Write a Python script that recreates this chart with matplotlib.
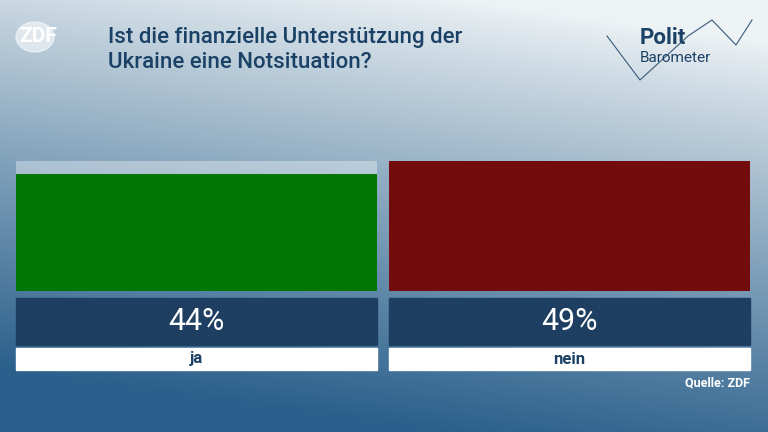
import numpy as np
import matplotlib
matplotlib.use("Agg")
import matplotlib.pyplot as plt
from matplotlib.patches import Rectangle, Ellipse

categories = ["ja", "nein"]
values = [44, 49]
labels = ["44%", "49%"]
colors = ["#037603", "#720c0d"]

plt.rcParams['font.family'] = ['Roboto', 'DejaVu Sans']
W, H = 768, 432
fig = plt.figure(figsize=(7.68, 4.32), dpi=100)
bg = fig.add_axes([0, 0, 1, 1])
bg.set_xlim(0, W); bg.set_ylim(H, 0); bg.axis('off')
yy, xx = np.mgrid[0:H, 0:W]
t = np.clip((yy / H) * 1.0 + (1 - xx / W) * 0.25 - 0.1, 0, 1) ** 0.9
top = np.array([0.93, 0.95, 0.96]); bot = np.array([0.17, 0.38, 0.55])
img = top[None, None, :] * (1 - t[..., None]) + bot[None, None, :] * t[..., None]
bg.imshow(img, extent=[0, W, H, 0], aspect='auto', zorder=0)

# ZDF logo
bg.add_patch(Ellipse((35, 37), 38, 30, color='white', alpha=0.55, zorder=1))
bg.text(38, 37, "ZDF", color='white', fontsize=15, ha='center', va='center', weight='bold', zorder=2)
bg.text(108, 37, "Ist die finanzielle Unterstützung der", color='#1b4266', fontsize=16, va='center', weight='medium')
bg.text(108, 63, "Ukraine eine Notsituation?", color='#1b4266', fontsize=16, va='center', weight='medium')
# Politbarometer logo
bg.plot([607, 640, 688, 712, 736, 752], [36, 80, 36, 20, 45, 20], color='#3a5a7a', lw=0.8)
bg.text(640, 38, "Polit", color='#1b4266', fontsize=16, weight='bold', va='center')
bg.text(640, 58, "Barometer", color='#1b4266', fontsize=11, va='center')
bg.text(750, 383, "Quelle: ZDF", color='white', fontsize=9, ha='right', va='center', weight='bold')

lefts = [16, 389]; width = 361
ax = fig.add_axes([16 / W, 1 - 291 / H, (750 - 16) / W, 130 / H])
ax.patch.set_alpha(0); ax.axis('off')
ax.set_xlim(0, 750 - 16); ax.set_ylim(0, max(values))
for i, v in enumerate(values):
    x0 = lefts[i] - 16
    ax.bar(x0, max(values), width=width, align='edge', color='white', alpha=0.35)
    ax.bar(x0, v, width=width, align='edge', color=colors[i])
for i in range(2):
    bg.add_patch(Rectangle((lefts[i], 298), width, 47, color='#1e3f62', zorder=3))
    bg.text(lefts[i] + width / 2, 322, labels[i], color='white', fontsize=22, ha='center', va='center', zorder=4)
    bg.add_patch(Rectangle((lefts[i], 348), width, 22, color='white', zorder=3))
    bg.text(lefts[i] + width / 2, 359, categories[i], color='#1b4266', fontsize=12, ha='center', va='center', weight='bold', zorder=4)
fig.savefig("out.png", dpi=100)
